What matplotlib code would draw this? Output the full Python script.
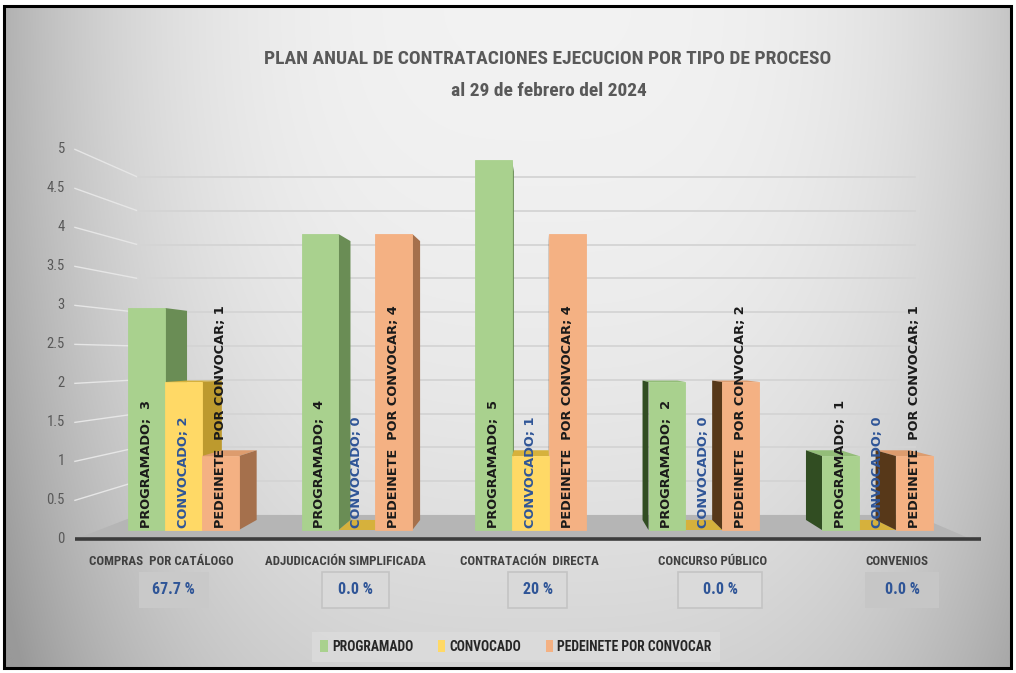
import numpy as np
import matplotlib
matplotlib.use('Agg')
import matplotlib.pyplot as plt
from matplotlib.patches import Polygon, Rectangle, Patch

# datos del grafico
categorias = ['COMPRAS  POR CATÁLOGO', 'ADJUDICACIÓN SIMPLIFICADA', 'CONTRATACIÓN  DIRECTA',
              'CONCURSO PÚBLICO', 'CONVENIOS']
series = ['PROGRAMADO', 'CONVOCADO', 'PEDEINETE POR CONVOCAR']
etiquetas = ['PROGRAMADO;  ', 'CONVOCADO; ', 'PEDEINETE  POR CONVOCAR; ']
programado = [3, 4, 5, 2, 1]
convocado = [2, 0, 1, 0, 0]
pendiente = [1, 4, 4, 2, 1]
porcentajes = ['67.7 %', '0.0 %', '20 %', '0.0 %', '0.0 %']
yticks = np.arange(0, 5.01, 0.5)

titulo = 'PLAN ANUAL DE CONTRATACIONES EJECUCION POR TIPO DE PROCESO'
subtitulo = 'al 29 de febrero del 2024'

# colores (frente, lado derecho, lado izquierdo, techo)
c_front = ['#a9d18e', '#ffd966', '#f4b183']
c_right = ['#6a8d55', '#bd9a2e', '#a5704c']
c_left = ['#314d22', '#8a6d12', '#573819']
c_top = ['#93bd78', '#d6b13c', '#dd9c6e']
c_label = ['#1a1a1a', '#2f5597', '#1a1a1a']
c_caja = ['#c9c9c9', '#d9d9d9', '#d9d9d9', '#dadada', '#c6c6c6']
ancho_caja = [70, 67, 59, 84, 74]  # px

narrow = ['Roboto Condensed', 'DejaVu Sans']

# perspectiva simple: punto de fuga y escalas de profundidad
PXU, PYU = 173.5, 74.0
VX, VY = 2.09, 2.34
S_FRONT, S_BACK, S_BAR = 1.054, 0.913, 0.942
L, R = -0.484, 4.42
BW = 0.213

def proj(x, v, s):
    return (VX + (x - VX) * s, VY + (v - VY) * s)

W, H = 1016, 673
fig = plt.figure(figsize=(W / 100, H / 100), dpi=100)
fig.patch.set_facecolor('white')

# fondo degradado dentro del marco
bx0, bx1 = 4 / W, 1011 / W
by0, by1 = 1 - 668 / H, 1 - 6 / H
ax_bg = fig.add_axes([bx0, by0, bx1 - bx0, by1 - by0], zorder=0)
xx, yy = np.meshgrid(np.linspace(0, 1, 400), np.linspace(0, 1, 260))
dx = np.abs(xx - 0.53) / 0.5
val = 0.95 - 0.21 * dx ** 3.2 - 0.12 * yy ** 2
val = np.clip(val, 0.6, 0.95)
ax_bg.imshow(np.dstack([val] * 3), aspect='auto', extent=(0, 1, 0, 1), interpolation='bicubic')
ax_bg.set_xlim(0, 1)
ax_bg.set_ylim(0, 1)
ax_bg.axis('off')
ax_bg.add_patch(Rectangle((0, 0), 1, 1, transform=ax_bg.transAxes, fill=False,
                          edgecolor='black', lw=2.2, clip_on=False))

# ejes principales (unidades: categoria en x, valor en y)
ax = fig.add_axes([0, 0, 1, 1], zorder=1)
ax.patch.set_alpha(0)
ax.set_xlim(-183 / PXU, (W - 183) / PXU)
ax.set_ylim(-(H - 530) / PYU, 530 / PYU)
ax.axis('off')

# piso
floor = [proj(L, 0, S_FRONT), proj(R, 0, S_FRONT), proj(R, 0, S_BACK), proj(L, 0, S_BACK)]
ax.add_patch(Polygon(floor, closed=True, facecolor='#b5b5b5', edgecolor='none', zorder=1))
p0, p1 = proj(L, 0, S_FRONT), proj(R + 0.05, 0, S_FRONT)
ax.plot([p0[0], p1[0]], [p0[1], p1[1]], color='#3c3c3c', lw=2.6, zorder=2,
        solid_capstyle='butt')

# lineas de division (pared lateral y fondo)
for t in yticks:
    a, b = proj(L, t, S_FRONT), proj(L, t, S_BACK)
    c = proj(R, t, S_BACK)
    if t > 0:
        ax.plot([a[0], b[0]], [a[1], b[1]], color='#e6e6e6', lw=1.0, zorder=1)
        ax.plot([b[0], c[0]], [b[1], c[1]], color='#d4d4d4', lw=1.3, zorder=1)
    ax.text(a[0] - 0.058, a[1], f'{t:g}', ha='right', va='center', fontsize=10.5,
            color='#595959', family=narrow)

# barras
valores = [programado, convocado, pendiente]
barras = []
for k, vals in enumerate(valores):
    for i, v in enumerate(vals):
        x0 = i - 0.317 + k * BW
        barras.append((k, i, x0, x0 + BW, v))

barras.sort(key=lambda b: (b[4] > 0, -abs((b[2] + b[3]) / 2 - VX)))
z = 3
for k, i, x0, x1, v in barras:
    # techo
    if v < VY:
        top = [proj(x0, v, 1), proj(x1, v, 1), proj(x1, v, S_BAR), proj(x0, v, S_BAR)]
        ax.add_patch(Polygon(top, closed=True, facecolor=c_top[k], edgecolor='none', zorder=z))
    if v > 0:
        if x1 < VX:
            side = [proj(x1, 0, 1), proj(x1, v, 1), proj(x1, v, S_BAR), proj(x1, 0, S_BAR)]
            ax.add_patch(Polygon(side, closed=True, facecolor=c_right[k], edgecolor='none', zorder=z))
        if x0 > VX:
            side = [proj(x0, 0, 1), proj(x0, v, 1), proj(x0, v, S_BAR), proj(x0, 0, S_BAR)]
            ax.add_patch(Polygon(side, closed=True, facecolor=c_left[k], edgecolor='none', zorder=z))
        ax.add_patch(Rectangle((x0, 0), BW, v, facecolor=c_front[k], edgecolor=c_front[k],
                               lw=0.6, zorder=z))
    z += 1

# etiquetas de datos
for k, vals in enumerate(valores):
    for i, v in enumerate(vals):
        xc = i - 0.317 + k * BW + BW / 2
        ax.text(xc, 0.03, f'{etiquetas[k]}{v}', rotation=90, ha='center', va='bottom',
                fontsize=9.3, fontweight='bold', color=c_label[k], zorder=40,
                family='DejaVu Sans')

# categorias y porcentajes
caja_h = 36 / PYU
for i, (cat, pct) in enumerate(zip(categorias, porcentajes)):
    xc, _ = proj(i, 0, 1.06)
    ax.text(xc, -0.42, cat, ha='center', va='center', fontsize=9.3, fontweight='bold',
            color='#404040', family=narrow, zorder=40)
    bxc = proj(i, 0, 1.05)[0] + 0.05
    bw = ancho_caja[i] / PXU
    borde = 'none' if i in (0, 4) else '#c4c4c4'
    ax.add_patch(Rectangle((bxc - bw / 2, -0.81 - caja_h / 2), bw, caja_h,
                           facecolor=c_caja[i], edgecolor=borde, lw=1.2, zorder=39))
    ax.text(bxc, -0.81, pct, ha='center', va='center', fontsize=11.5, fontweight='bold',
            color='#2f5597', family=narrow, zorder=40)

# titulo
fig.text(548 / W, 1 - 59 / H, titulo, ha='center', va='center', fontsize=14,
         fontweight='bold', color='#595959', family=narrow)
fig.text(549 / W, 1 - 91 / H, subtitulo, ha='center', va='center', fontsize=14,
         fontweight='bold', color='#595959', family=narrow)

# leyenda
handles = [Patch(facecolor=c, edgecolor='none') for c in c_front]
leg = fig.legend(handles, series, loc='center', bbox_to_anchor=(516 / W, 1 - 647 / H), ncol=3,
                 frameon=True, fancybox=False, handlelength=0.55, handleheight=1.0,
                 handletextpad=0.3, columnspacing=1.8, borderpad=0.6,
                 prop=dict(family=narrow, weight='bold', size=9.8))
leg.get_frame().set_facecolor('#dcdcdc')
leg.get_frame().set_edgecolor('none')
for t in leg.get_texts():
    t.set_color('#262626')

fig.savefig('out.png', dpi=100)
